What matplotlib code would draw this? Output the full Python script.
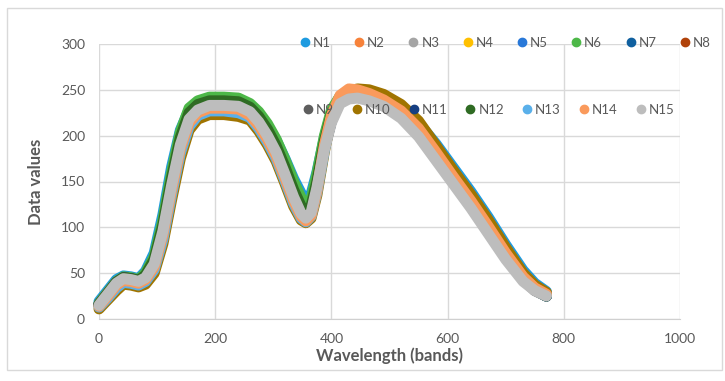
import matplotlib
matplotlib.use("Agg")
import matplotlib.pyplot as plt
from matplotlib.lines import Line2D
from matplotlib.patches import Rectangle

plt.rcParams['font.family'] = ['Lato', 'DejaVu Sans']

bands = [0, 15, 30, 42, 55, 68, 80, 95, 110, 125, 140, 155, 170, 190, 215, 240, 260, 275,
         290, 305, 320, 335, 348, 356, 365, 375, 388, 400, 415, 430, 445, 465, 490, 520,
         550, 580, 610, 640, 670, 700, 730, 750, 770]

N1 = [19, 31, 43, 47, 46, 44, 52, 72, 114, 166, 206, 228, 236, 240, 240, 239, 232, 223,
      211, 195, 175, 153, 137, 131, 136, 160, 198, 226, 243, 247, 248, 248, 243, 232,
      214, 191, 165, 139, 111, 81, 53, 39, 30]
N2 = [15, 27, 40, 45, 44, 42, 46, 62, 99, 150, 194, 221, 231, 235, 235, 234, 228, 218,
      203, 185, 161, 136, 118, 113, 118, 146, 188, 219, 240, 246, 246, 242, 236, 223,
      203, 177, 151, 125, 97, 69, 44, 33, 26]
N3 = [16, 28, 40, 45, 44, 42, 47, 63, 100, 151, 195, 222, 232, 236, 236, 235, 229, 219,
      204, 186, 162, 137, 119, 114, 119, 147, 189, 218, 239, 245, 245, 241, 235, 222,
      202, 176, 150, 124, 96, 68, 43, 32, 25]
N4 = [15, 28, 39, 45, 44, 42, 46, 62, 98, 149, 193, 220, 230, 235, 235, 234, 228, 217,
      202, 184, 160, 135, 117, 112, 118, 145, 188, 217, 239, 245, 245, 241, 235, 222,
      202, 176, 150, 124, 96, 68, 44, 32, 26]
N5 = [16, 27, 40, 44, 44, 41, 47, 62, 99, 149, 193, 221, 231, 234, 234, 233, 227, 217,
      202, 184, 160, 135, 117, 112, 118, 145, 187, 217, 238, 244, 244, 240, 234, 221,
      201, 175, 149, 123, 95, 67, 43, 32, 25]
N6 = [17, 29, 41, 46, 45, 43, 50, 68, 108, 160, 204, 230, 238, 242, 242, 241, 235, 226,
      213, 196, 174, 150, 132, 125, 130, 158, 200, 228, 243, 246, 246, 243, 237, 224,
      204, 178, 152, 125, 97, 69, 45, 33, 26]
N7 = [15, 28, 40, 45, 43, 42, 46, 61, 98, 148, 192, 220, 230, 234, 235, 233, 227, 216,
      201, 183, 159, 134, 116, 111, 117, 144, 187, 216, 238, 244, 244, 240, 234, 221,
      201, 175, 149, 123, 95, 67, 43, 32, 25]
N8 = [16, 28, 40, 45, 44, 42, 46, 62, 99, 150, 194, 221, 231, 235, 235, 234, 229, 219,
      204, 186, 162, 137, 119, 113, 118, 146, 188, 218, 240, 246, 246, 242, 236, 223,
      203, 177, 151, 125, 97, 69, 44, 33, 26]
N9 = [15, 27, 39, 44, 44, 41, 46, 61, 97, 148, 192, 219, 229, 234, 234, 233, 227, 216,
      201, 183, 159, 134, 116, 111, 117, 144, 186, 216, 238, 244, 244, 240, 234, 221,
      201, 175, 149, 123, 95, 67, 43, 31, 25]
N10 = [11, 21, 31, 38, 37, 35, 38, 50, 82, 130, 175, 206, 218, 223, 223, 221, 217, 205,
       190, 172, 148, 123, 108, 105, 110, 135, 183, 220, 241, 248, 251, 250, 245, 234,
       216, 189, 162, 136, 108, 78, 50, 37, 29]
N11 = [16, 27, 40, 45, 44, 42, 46, 61, 98, 149, 193, 220, 230, 234, 234, 233, 228, 217,
       202, 184, 160, 135, 117, 112, 117, 145, 187, 217, 239, 245, 245, 241, 235, 222,
       202, 176, 150, 124, 96, 68, 44, 32, 25]
N12 = [16, 28, 40, 45, 44, 42, 48, 65, 103, 154, 198, 225, 234, 238, 238, 237, 231, 221,
       207, 189, 166, 141, 123, 118, 123, 150, 194, 224, 240, 246, 246, 242, 236, 223,
       203, 177, 151, 124, 96, 68, 44, 32, 25]
N13 = [13, 23, 34, 40, 39, 37, 41, 54, 87, 136, 181, 210, 222, 227, 227, 225, 220, 208,
       193, 175, 151, 126, 110, 106, 112, 138, 185, 220, 241, 247, 247, 243, 237, 224,
       204, 178, 152, 126, 98, 70, 45, 33, 26]
N14 = [14, 25, 37, 42, 41, 39, 43, 57, 92, 141, 186, 214, 225, 230, 230, 229, 222, 211,
       196, 178, 154, 129, 112, 107, 113, 140, 190, 222, 244, 251, 250, 246, 239, 227,
       208, 182, 155, 129, 101, 72, 46, 34, 27]
N15 = [15, 27, 39, 44, 43, 41, 45, 60, 96, 146, 190, 218, 228, 233, 233, 232, 226, 215,
       200, 182, 158, 133, 115, 110, 116, 143, 185, 214, 235, 240, 241, 238, 232, 219,
       199, 173, 147, 121, 93, 65, 41, 31, 25]

names = ['N1', 'N2', 'N3', 'N4', 'N5', 'N6', 'N7', 'N8', 'N9', 'N10', 'N11', 'N12',
         'N13', 'N14', 'N15']
series = [N1, N2, N3, N4, N5, N6, N7, N8, N9, N10, N11, N12, N13, N14, N15]
colors = ['#1E9BE0', '#F7823A', '#A5A5A5', '#FFC000', '#2878D8', '#4DB848', '#10609F',
          '#B0420A', '#5E5E5E', '#A07400', '#163F82', '#2F6B23', '#5AB0EA', '#FA9A5C',
          '#BDBDBD']

txt = '#595959'
fig = plt.figure(figsize=(7.25, 3.81), dpi=100)
fig.patches.append(Rectangle((7 / 725, 1 - 370 / 381), 715 / 725, 362 / 381,
                             transform=fig.transFigure, fill=False,
                             edgecolor='#D9D9D9', lw=1))

ax = fig.add_axes([99 / 725, 1 - 319 / 381, 581 / 725, 275 / 381])
for vals, c, n in zip(series, colors, names):
    ax.plot(bands, vals, color=c, lw=7.9, solid_capstyle='round',
            solid_joinstyle='round', clip_on=False, zorder=3, label=n)

ax.set_xlim(0, 1000)
ax.set_ylim(0, 300)
ax.set_xticks(range(0, 1001, 200))
ax.set_yticks(range(0, 301, 50))
ax.grid(True, color='#D9D9D9', lw=1)
ax.set_axisbelow(True)
for s in ['top', 'right', 'left']:
    ax.spines[s].set_visible(False)
ax.spines['bottom'].set_color('#D0D0D0')
ax.tick_params(axis='both', length=0, labelsize=10, labelcolor=txt)
ax.tick_params(axis='y', pad=10)
ax.tick_params(axis='x', pad=10)
ax.set_xlabel('Wavelength (bands)', fontsize=12, fontweight='bold', color=txt, labelpad=2)
ax.set_ylabel('Data values', fontsize=12, fontweight='bold', color=txt, labelpad=12)

# legend sits over the curves, two rows
handles = [Line2D([], [], ls='none', marker='o', ms=6, color=c, label=n)
           for c, n in zip(colors, names)]
kw = dict(frameon=False, fontsize=9.5, handlelength=0.6, handletextpad=0.3,
          borderpad=0, borderaxespad=0, labelcolor=txt, loc='center left',
          bbox_transform=fig.transFigure)
leg1 = ax.legend(handles=handles[:8], ncol=8, columnspacing=1.85,
                 bbox_to_anchor=(301 / 725, 1 - 43 / 381), **kw)
ax.add_artist(leg1)
ax.legend(handles=handles[8:], ncol=7, columnspacing=1.45,
          bbox_to_anchor=(304 / 725, 1 - 110 / 381), **kw)

fig.savefig('out.png', dpi=100)
